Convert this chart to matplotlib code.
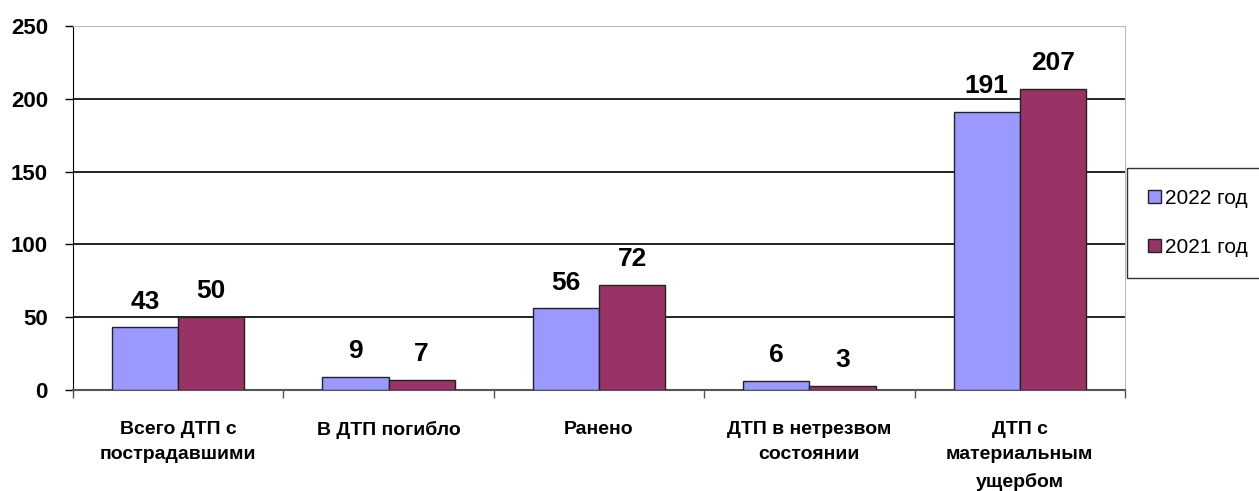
import numpy as np
import matplotlib.pyplot as plt

categories = ["Всего ДТП с\nпострадавшими", "В ДТП погибло", "Ранено",
              "ДТП в нетрезвом\nсостоянии", "ДТП с\nматериальным\nущербом"]
series_names = ["2022 год", "2021 год"]
values_2022 = [43, 9, 56, 6, 191]
values_2021 = [50, 7, 72, 3, 207]
yticks = [0, 50, 100, 150, 200, 250]

plt.rcParams['font.family'] = ['Liberation Sans', 'DejaVu Sans']

fig = plt.figure(figsize=(12.59, 4.91), dpi=100)
ax = fig.add_axes([73/1259, 101/491, 1052/1259, 364/491])

x = np.arange(len(categories))
w = 66/210
b1 = ax.bar(x - w/2, values_2022, w, color='#9999FF', edgecolor='#222222', linewidth=1, label=series_names[0], zorder=3)
b2 = ax.bar(x + w/2, values_2021, w, color='#993366', edgecolor='#222222', linewidth=1, label=series_names[1], zorder=3)

for bars in (b1, b2):
    for r in bars:
        ax.annotate(str(int(r.get_height())), (r.get_x() + r.get_width()/2, r.get_height()),
                    xytext=(0, 10), textcoords='offset points', ha='center', va='bottom',
                    fontsize=19, fontweight='bold', zorder=4)

ax.set_xlim(-0.5, len(categories) - 0.5)
ax.set_ylim(0, 250)
ax.set_yticks(yticks)
ax.set_yticklabels([str(t) for t in yticks], fontsize=16, fontweight='bold')
ax.yaxis.grid(True, color='#111111', linewidth=1.3, zorder=0)
ax.set_axisbelow(True)

# category labels between boundary ticks
ax.set_xticks(np.arange(len(categories) + 1) - 0.5)
ax.set_xticklabels([])
ax.tick_params(axis='x', direction='out', length=6, width=1, color='#555555')
ax.tick_params(axis='y', direction='out', length=6, width=1, pad=12)
for i, c in enumerate(categories):
    ax.text(i, -0.085, c, transform=ax.get_xaxis_transform(), ha='center', va='top',
            fontsize=14, fontweight='bold', linespacing=1.65)

ax.spines['left'].set_color('black')
ax.spines['bottom'].set_color('#555555')
ax.spines['bottom'].set_linewidth(1.5)
ax.spines['top'].set_color('#bbbbbb')
ax.spines['right'].set_color('#bbbbbb')

leg = fig.legend(loc='upper left', bbox_to_anchor=(1127/1259, 1 - 168/491), fontsize=15,
                 frameon=True, fancybox=False, edgecolor='black', handlelength=0.62,
                 handleheight=0.62, handletextpad=0.2, labelspacing=1.45, borderpad=1.0,
                 borderaxespad=0)
leg.get_frame().set_linewidth(1)

fig.savefig('out.png', dpi=100)
